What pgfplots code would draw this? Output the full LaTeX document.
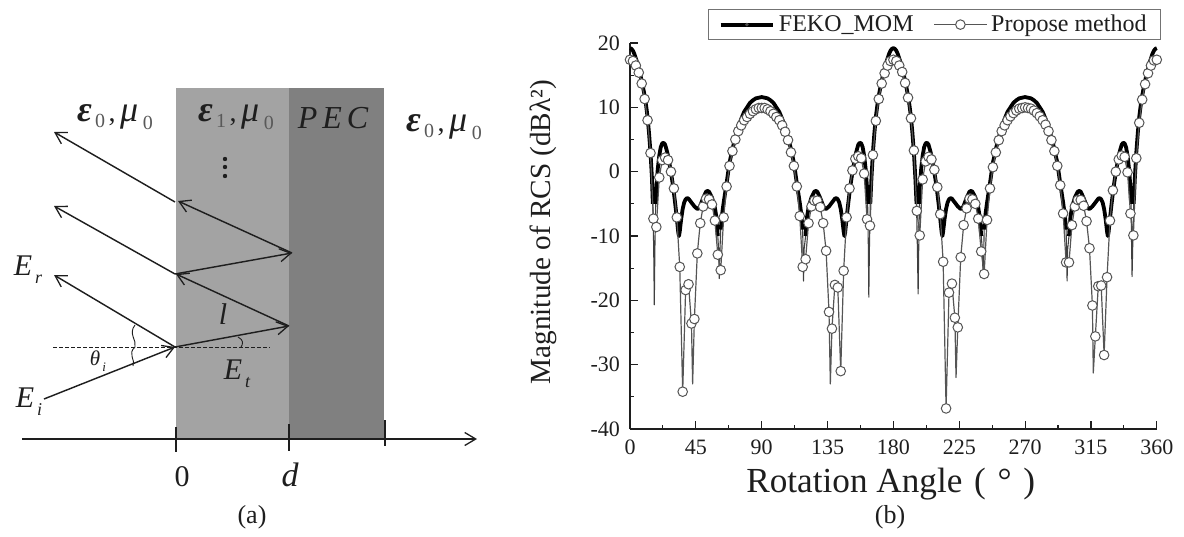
\documentclass[border=0pt]{standalone}
\usepackage{pgfplots}
\usepackage{pgfplotstable}
\pgfplotsset{compat=1.18}
\usepackage{fontspec}
\setmainfont{Liberation Serif}
\usetikzlibrary{arrows.meta}
\pgfplotstableread[row sep=crcr]{
x y\\
0 19.2\\1 19.1\\2 18.8\\3 18.3\\4 17.6\\5 16.9\\6 16\\7 15.1\\8 14.1\\9 13\\10 11.8\\11 10.3\\12 8.5\\13 6\\14 3\\15 -1\\15.6 -5\\16.2 -12\\16.6 -20.7\\17 -12\\17.6 -5\\18 -2.5\\19 .5\\20 2.5\\21 3.8\\22 4.4\\23 4.5\\24 4.2\\25 3.4\\26 2.5\\27 1.2\\28 -.1\\29 -1.6\\30 -3.3\\31 -5.2\\32 -7.3\\33 -9.5\\33.5 -10\\34 -9.3\\35 -7.3\\36 -5.8\\37 -4.8\\38 -4.3\\39 -4.1\\40 -4.2\\42 -4.8\\44 -5.4\\46 -5.8\\47 -5.7\\48 -5.3\\50 -4.1\\52 -3.1\\53 -3\\54 -3.1\\56 -4\\58 -5.6\\59 -7\\60 -10\\60.5 -12\\61 -16.6\\61.5 -12\\62 -9\\63 -6.5\\64 -4.8\\66 -1.8\\68 1.4\\70 3.5\\72 5.3\\74 6.9\\76 8.2\\78 9.3\\80 10\\82 10.7\\84 11.1\\86 11.4\\88 11.5\\90 11.6\\
92 11.5\\94 11.4\\96 11.1\\98 10.7\\100 10\\102 9.3\\104 8.2\\106 6.9\\108 5.3\\110 3.5\\112 1.4\\114 -1.8\\116 -4.8\\117 -6.5\\118 -9\\118.2 -12\\118.6 -17\\119 -12\\120 -10\\121 -7\\122 -5.6\\124 -4\\126 -3.1\\127 -3\\128 -3.1\\130 -4.1\\132 -5.3\\133 -5.7\\134 -5.8\\136 -5.4\\138 -4.8\\140 -4.2\\141 -4.1\\142 -4.3\\143 -4.8\\144 -5.8\\145 -7.3\\146 -9.3\\146.5 -10\\147 -9.5\\148 -7.3\\149 -5.2\\150 -3.3\\151 -1.6\\152 -.1\\153 1.2\\154 2.5\\155 3.4\\156 4.2\\157 4.5\\158 4.4\\159 3.8\\160 2.5\\161 .5\\162 -2.5\\162.4 -5\\162.9 -12\\163.2 -19.5\\163.6 -12\\164.2 -5\\165 -1\\166 3\\167 6\\168 8.5\\169 10.3\\170 11.8\\171 13\\172 14.1\\173 15.1\\174 16\\175 16.9\\176 17.6\\177 18.3\\178 18.8\\179 19.1\\180 19.2\\
181 19.1\\182 18.8\\183 18.3\\184 17.6\\185 16.9\\186 16\\187 15.1\\188 14.1\\189 13\\190 11.8\\191 10.3\\192 8.5\\193 6\\194 3\\195 -1\\195.8 -5\\196.4 -12\\196.9 -19\\197.3 -12\\197.8 -5\\198 -2.5\\199 .5\\200 2.5\\201 3.8\\202 4.4\\203 4.5\\204 4.2\\205 3.4\\206 2.5\\207 1.2\\208 -.1\\209 -1.6\\210 -3.3\\211 -5.2\\212 -7.3\\213 -9.5\\213.5 -10\\214 -9.3\\215 -7.3\\216 -5.8\\217 -4.8\\218 -4.3\\219 -4.1\\220 -4.2\\222 -4.8\\224 -5.4\\226 -5.8\\227 -5.7\\228 -5.3\\230 -4.1\\232 -3.1\\233 -3\\234 -3.1\\236 -4\\238 -5.6\\239 -7\\240 -10\\240.8 -12\\241.3 -16.6\\241.8 -12\\242 -9\\243 -6.5\\244 -4.8\\246 -1.8\\248 1.4\\250 3.5\\252 5.3\\254 6.9\\256 8.2\\258 9.3\\260 10\\262 10.7\\264 11.1\\266 11.4\\268 11.5\\270 11.6\\
272 11.5\\274 11.4\\276 11.1\\278 10.7\\280 10\\282 9.3\\284 8.2\\286 6.9\\288 5.3\\290 3.5\\292 1.4\\294 -1.8\\296 -4.8\\297 -6.5\\298 -9\\298.3 -12\\298.7 -17\\299.1 -12\\300 -10\\301 -7\\302 -5.6\\304 -4\\306 -3.1\\307 -3\\308 -3.1\\310 -4.1\\312 -5.3\\313 -5.7\\314 -5.8\\316 -5.4\\318 -4.8\\320 -4.2\\321 -4.1\\322 -4.3\\323 -4.8\\324 -5.8\\325 -7.3\\326 -9.3\\326.5 -10\\327 -9.5\\328 -7.3\\329 -5.2\\330 -3.3\\331 -1.6\\332 -.1\\333 1.2\\334 2.5\\335 3.4\\336 4.2\\337 4.5\\338 4.4\\339 3.8\\340 2.5\\341 .5\\342 -2.5\\342.4 -5\\342.8 -12\\343.1 -16.3\\343.5 -12\\344.2 -5\\345 -1\\346 3\\347 6\\348 8.5\\349 10.3\\350 11.8\\351 13\\352 14.1\\353 15.1\\354 16\\355 16.9\\356 17.6\\357 18.3\\358 18.8\\359 19.1\\360 19.2\\
}\feko
\pgfplotstableread[row sep=crcr]{
x y\\
0 17.4\\2 17.2\\4 16.5\\6 15.4\\8 13.7\\10 11.3\\12 8\\14 2.9\\16 -7.3\\18 -8.6\\20 -.9\\22 1.8\\24 2.2\\26 1.8\\28 0\\30 -2.6\\32 -7.1\\34 -14.8\\36 -34.2\\38 -18.4\\40 -17.5\\42 -23.6\\44 -22.9\\46 -12.7\\48 -8\\50 -5.4\\52 -4.2\\54 -4.3\\56 -5.1\\58 -7.6\\60 -12.9\\62 -15.3\\64 -7.1\\66 -2.3\\68 .9\\70 3.2\\72 5\\74 6.3\\76 7.2\\78 8\\80 8.5\\82 9\\84 9.4\\86 9.7\\88 9.9\\90 9.9\\
92 9.9\\94 9.7\\96 9.4\\98 9\\100 8.5\\102 8\\104 7.2\\106 6.2\\108 4.9\\110 3\\112 .9\\114 -2.3\\116 -6.9\\118 -14.8\\120 -13.6\\122 -8\\124 -5.4\\126 -4.5\\128 -4.5\\130 -5.5\\132 -8\\134 -12.3\\136 -21.8\\138 -24.4\\140 -17.6\\142 -18\\144 -31\\146 -15.4\\148 -7.1\\150 -2.6\\152 .2\\154 2\\156 2.4\\158 2.1\\160 -.3\\162 -7.4\\164 -8.4\\166 2.6\\168 7.9\\170 11.3\\172 13.7\\174 15.3\\176 16.5\\178 17.2\\180 17.4\\
182 17.2\\184 16.5\\186 15.5\\188 13.8\\190 11.5\\192 8.3\\194 3.3\\196 -6.1\\198 -9.9\\200 -1.2\\202 1.6\\204 2.3\\206 1.9\\208 .3\\210 -2.4\\212 -6.6\\214 -14\\216 -36.8\\218 -18.8\\220 -17.4\\222 -22.7\\224 -24.2\\226 -13.3\\228 -8.3\\230 -5.7\\232 -4.2\\234 -4.3\\236 -5\\238 -7.3\\240 -12.4\\242 -15.9\\244 -7.5\\246 -2.6\\248 .7\\250 3\\252 4.9\\254 6.3\\256 7.2\\258 8\\260 8.6\\262 9.1\\264 9.5\\266 9.8\\268 9.9\\270 10\\
272 9.9\\274 9.8\\276 9.5\\278 9.1\\280 8.6\\282 8\\284 7.3\\286 6.3\\288 4.9\\290 3.2\\292 .9\\294 -2.1\\296 -6.5\\298 -14.1\\300 -14.1\\302 -8.3\\304 -5.4\\306 -4.4\\308 -4.4\\310 -5.3\\312 -7.7\\314 -11.9\\316 -20.8\\318 -25.6\\320 -17.8\\322 -17.7\\324 -28.5\\326 -16.4\\328 -7.6\\330 -2.9\\332 0\\334 1.9\\336 2.5\\338 2.3\\340 -.1\\342 -6.5\\344 -9.9\\346 2.1\\348 7.6\\350 11.2\\352 13.6\\354 15.3\\356 16.5\\358 17.3\\360 17.4\\
}\propmarks
\pgfplotstableread[row sep=crcr]{
x y\\
0 17.4\\2 17.2\\4 16.5\\6 15.4\\8 13.7\\10 11.3\\12 8\\14 2.9\\16 -7.3\\18 -8.6\\20 -.9\\22 1.8\\24 2.2\\26 1.8\\28 0\\30 -2.6\\32 -7.1\\34 -14.8\\36 -34.2\\38 -18.4\\40 -17.5\\42 -23.6\\42.8 -33\\44 -22.9\\46 -12.7\\48 -8\\50 -5.4\\52 -4.2\\54 -4.3\\56 -5.1\\58 -7.6\\60 -12.9\\62 -15.3\\64 -7.1\\66 -2.3\\68 .9\\70 3.2\\72 5\\74 6.3\\76 7.2\\78 8\\80 8.5\\82 9\\84 9.4\\86 9.7\\88 9.9\\90 9.9\\
92 9.9\\94 9.7\\96 9.4\\98 9\\100 8.5\\102 8\\104 7.2\\106 6.2\\108 4.9\\110 3\\112 .9\\114 -2.3\\116 -6.9\\118 -14.8\\120 -13.6\\122 -8\\124 -5.4\\126 -4.5\\128 -4.5\\130 -5.5\\132 -8\\134 -12.3\\136 -21.8\\136.9 -33\\138 -24.4\\140 -17.6\\142 -18\\144 -31\\146 -15.4\\148 -7.1\\150 -2.6\\152 .2\\154 2\\156 2.4\\158 2.1\\160 -.3\\162 -7.4\\164 -8.4\\166 2.6\\168 7.9\\170 11.3\\172 13.7\\174 15.3\\176 16.5\\178 17.2\\180 17.4\\
182 17.2\\184 16.5\\186 15.5\\188 13.8\\190 11.5\\192 8.3\\194 3.3\\196 -6.1\\198 -9.9\\200 -1.2\\202 1.6\\204 2.3\\206 1.9\\208 .3\\210 -2.4\\212 -6.6\\214 -14\\216 -36.8\\218 -18.8\\220 -17.4\\222 -22.7\\222.8 -32\\224 -24.2\\226 -13.3\\228 -8.3\\230 -5.7\\232 -4.2\\234 -4.3\\236 -5\\238 -7.3\\240 -12.4\\242 -15.9\\244 -7.5\\246 -2.6\\248 .7\\250 3\\252 4.9\\254 6.3\\256 7.2\\258 8\\260 8.6\\262 9.1\\264 9.5\\266 9.8\\268 9.9\\270 10\\
272 9.9\\274 9.8\\276 9.5\\278 9.1\\280 8.6\\282 8\\284 7.3\\286 6.3\\288 4.9\\290 3.2\\292 .9\\294 -2.1\\296 -6.5\\298 -14.1\\300 -14.1\\302 -8.3\\304 -5.4\\306 -4.4\\308 -4.4\\310 -5.3\\312 -7.7\\314 -11.9\\316 -20.8\\316.6 -31.3\\318 -25.6\\320 -17.8\\322 -17.7\\324 -28.5\\326 -16.4\\328 -7.6\\330 -2.9\\332 0\\334 1.9\\336 2.5\\338 2.3\\340 -.1\\342 -6.5\\344 -9.9\\346 2.1\\348 7.6\\350 11.2\\352 13.6\\354 15.3\\356 16.5\\358 17.3\\360 17.4\\
}\propline
\definecolor{lightslab}{HTML}{A3A3A3}
\definecolor{darkslab}{HTML}{808080}
\definecolor{ink}{HTML}{1E1E1E}
\definecolor{propgray}{HTML}{555555}
\newcommand{\sz}[1]{\fontsize{#1}{#1}\selectfont}
\newcommand{\eps}[1]{{\sz{18}\itshape\bfseries ε}\,\raisebox{-.6ex}{\sz{10}\color{black!65}#1}}
\newcommand{\muu}{{\sz{18}\itshape μ}\,\raisebox{-.6ex}{\sz{10}\color{black!65}0}}
\begin{document}
\begin{tikzpicture}[x=.5pt,y=-.5pt,every node/.style={text=ink},
  ray/.style={draw=ink,line width=.72pt},
  arr/.style={ray,-{Straight Barb[length=5.5pt,width=6.5pt,line width=.65pt]}}]
\useasboundingbox (0,0) rectangle (1184,536);
% panel (a): schematic
\fill[lightslab] (176,88) rectangle (289,439);
\fill[darkslab] (289,88) rectangle (384,439);
\draw[arr] (22,439) -- (477,439);
\draw[ray] (176,427) -- (176,452);
\draw[ray] (289,424) -- (289,451);
\draw[ray] (385,420) -- (385,446);
\node at (182,477) {\sz{15}0};
\node at (290,475) {\sz{17}\itshape d};
\node at (252,517) {\sz{13}(a)};
\draw[ray,dashed,line width=.45pt,dash pattern=on 2pt off 1pt] (53,347) -- (270,347);
\draw[arr] (175,202) -- (54,132);
\draw[arr] (292,253) -- (178,201);
\draw[arr] (175,274) -- (292,253);
\draw[arr] (175,274) -- (54,206);
\draw[arr] (289,326) -- (176,274);
\draw[arr] (175,347) -- (289,326);
\draw[arr] (175,347) -- (54,275);
\draw[arr] (44,399) -- (175,347);
\draw[ray,line width=.45pt] (135,325) .. controls (128,334) and (137,340) .. (135,347) .. controls (127,354) and (136,360) .. (133,366);
\draw[ray,line width=.45pt] (238,337) .. controls (244,340) and (243,344) .. (241,347);
\node at (115,117) {\eps{0}\,\sz{14},\,\muu};
\node at (236,117) {\eps{1}\,\sz{14},\,\muu};
\node at (333,118) {\sz{16}\itshape P\hspace{2.5pt}E\hspace{2.5pt}C};
\node at (444,127) {\eps{0}\,\sz{14},\,\muu};
\foreach \yy in {159,167,176} \fill[ink] (225,\yy) circle (1.1pt);
\node at (28,270) {\sz{15}\itshape E\raisebox{-.6ex}{\sz{9}\,r}};
\node at (29,402) {\sz{15}\itshape E\raisebox{-.6ex}{\sz{9}\,i}};
\node at (237,374) {\sz{15}\itshape E\raisebox{-.6ex}{\sz{9}\,t}};
\node at (223,314) {\sz{15}\itshape l};
\node at (98,361) {\sz{10.5}\itshape θ\raisebox{-.6ex}{\sz{6.5}\,i}};
\node at (890,517) {\sz{13}(b)};
% panel (b): chart
\begin{axis}[
  at={(315pt,-214.5pt)},anchor=south west,
  scale only axis,width=263.4pt,height=193pt,
  xmin=0,xmax=360,ymin=-40,ymax=20,
  axis x line*=bottom,axis y line*=left,
  axis line style={draw=ink,line width=.6pt,-},
  xtick={0,45,...,360},ytick={-40,-30,...,20},
  minor x tick num=1,minor y tick num=1,
  tick align=inside,
  major tick length=4pt,minor tick length=2.2pt,
  tick style={draw=ink,line width=.55pt},
  tick label style={font=\sz{11},text=ink},
  /pgf/number format/assume math mode=true,
  xticklabel style={yshift=-2pt},
  yticklabel style={xshift=-1.5pt},
  xlabel={\sz{17.6}Rotation Angle\,\,(\,\,°\,\,)},
  ylabel={\sz{14.6}Magnitude of RCS (dBλ²)},
  xlabel style={at={(axis description cs:0.495,0)},anchor=north,yshift=-16pt,text=ink},
  ylabel style={at={(axis description cs:0,0.51)},anchor=south,yshift=33pt,text=ink},
  clip=false,
  legend columns=2,
  legend cell align=left,
  legend style={at={(1.008,1.008)},anchor=south east,draw=black!55,line width=.5pt,
    font=\sz{12},text=ink,inner xsep=5pt,inner ysep=.5pt,/tikz/every even column/.style={column sep=8pt}},
  legend image code/.code={\draw[mark repeat=2,mark phase=2,#1] plot coordinates {(0cm,0cm)(.46cm,0cm)(.92cm,0cm)};},
]
\addlegendimage{black,line width=1.9pt,mark=*,mark size=.8pt,mark options={fill=black!70,draw=black!70,line width=.2pt}}
\addlegendentry{FEKO\_MOM}
\addlegendimage{propgray,line width=.6pt,mark=*,mark size=2.4pt,mark options={fill=white,draw=propgray,line width=.5pt}}
\addlegendentry{Propose method}
\addplot[forget plot,black!75,line width=.55pt,line join=round,no marks] table {\feko};
\addplot[forget plot,black,line width=1.9pt,line join=round,no marks,restrict y to domain=-10.2:30] table {\feko};
\addplot[forget plot,propgray,line width=.6pt,line join=round,no marks] table {\propline};
\addplot[forget plot,only marks,mark=*,mark size=2.4pt,mark options={fill=white,draw=propgray,line width=.5pt}] table {\propmarks};
\end{axis}
\end{tikzpicture}
\end{document}
